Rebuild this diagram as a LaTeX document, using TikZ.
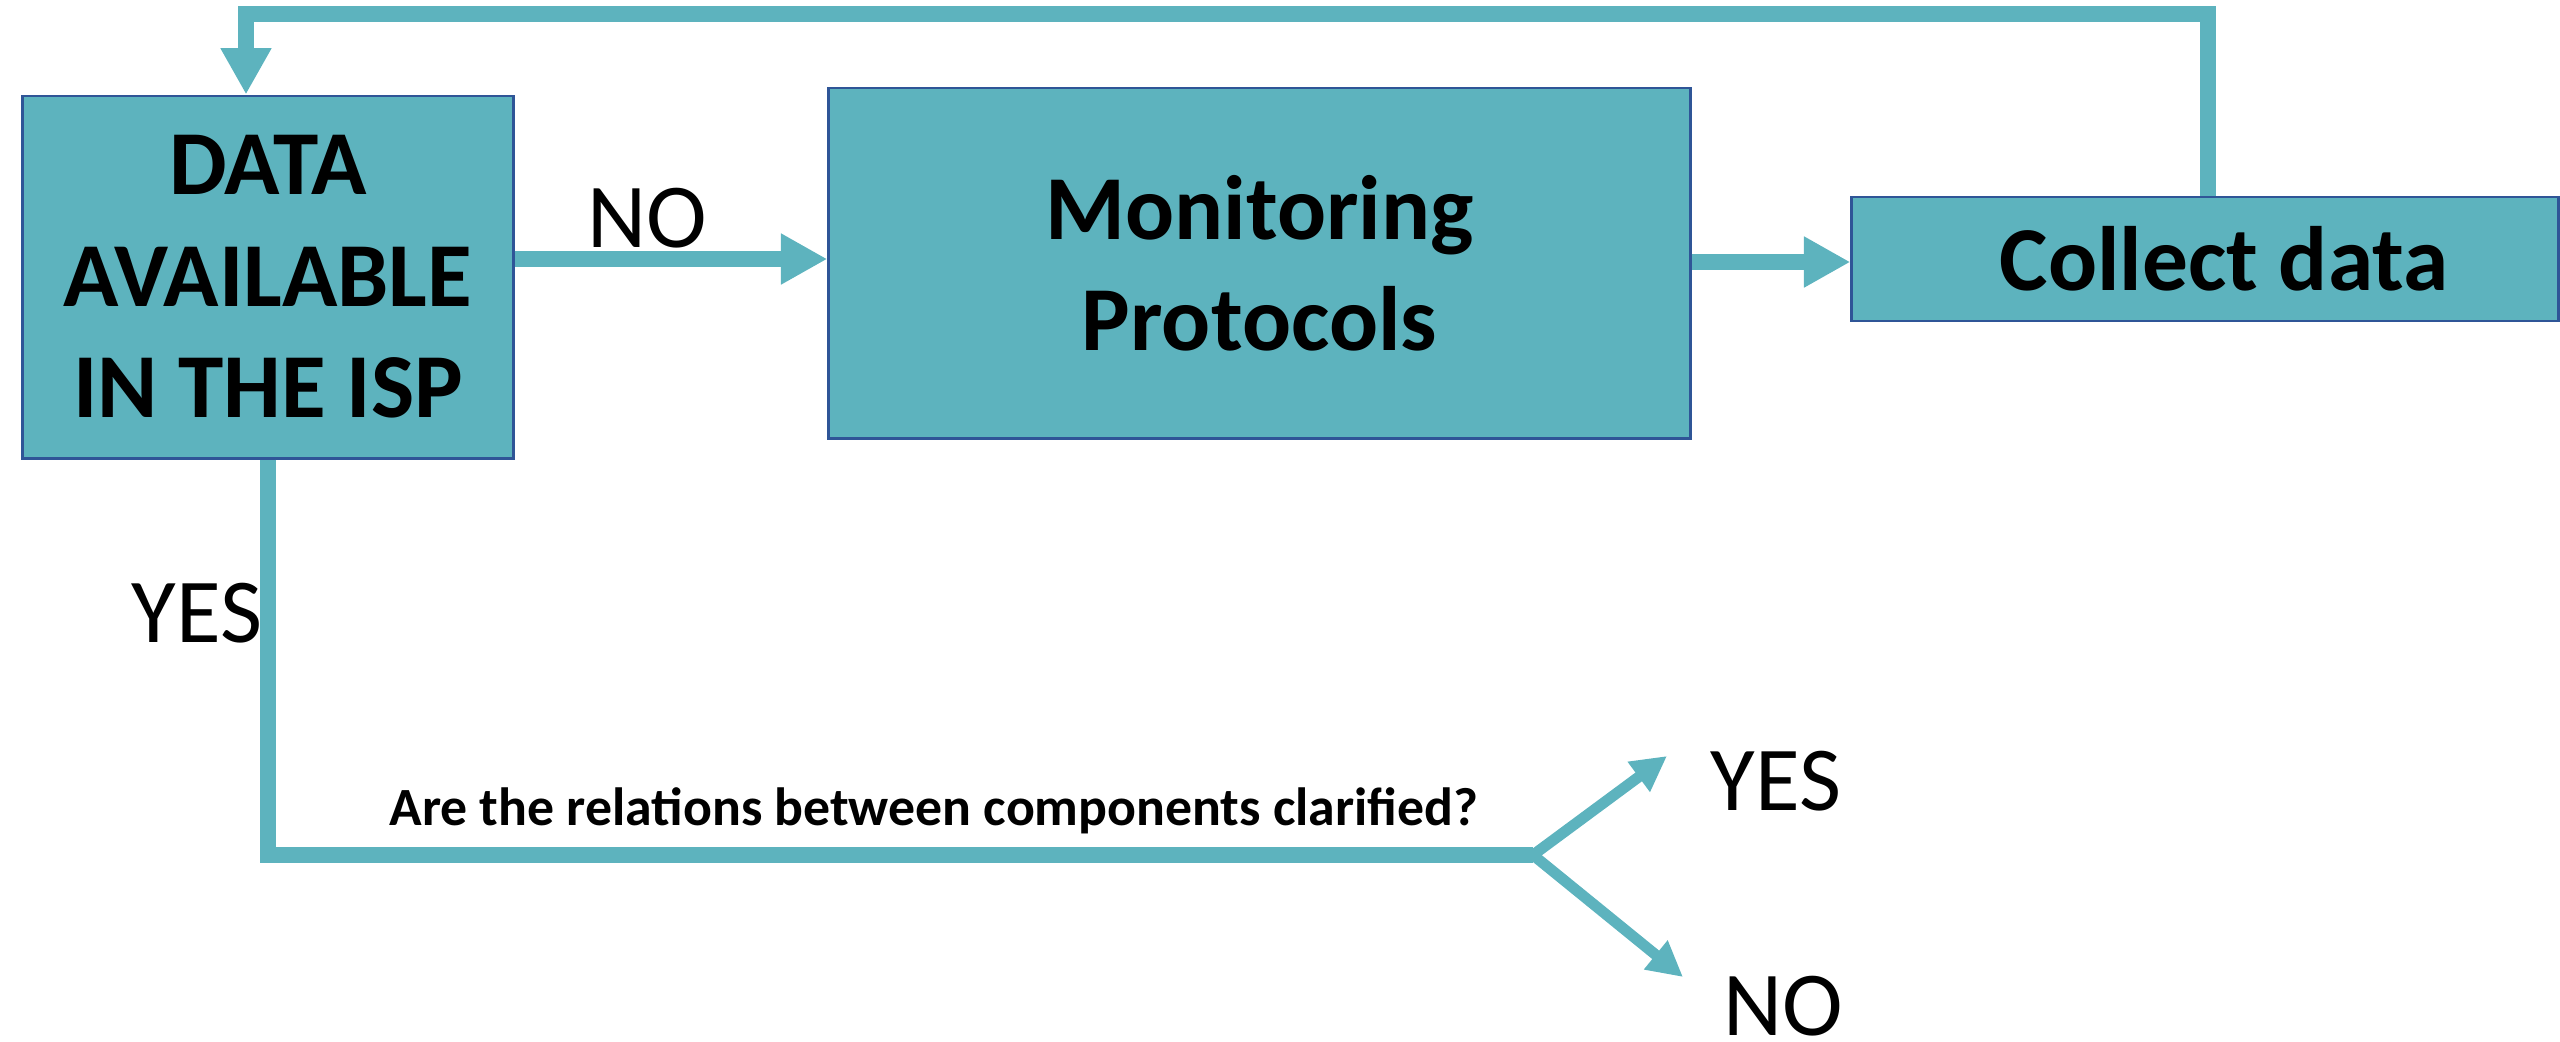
\documentclass[tikz,border=0pt]{standalone}
\usepackage{fontspec}
\setmainfont{Carlito}
\usetikzlibrary{arrows.meta}
\definecolor{teal}{HTML}{5DB3BE}
\definecolor{edge}{HTML}{2F5597}
\tikzset{
  box/.style={draw=edge, line width=0.8pt, fill=teal, inner sep=0pt, align=center,
    font=\bfseries\fontsize{26}{31.7}\selectfont},
  flow/.style={draw=teal, line width=4.4pt, line join=miter},
  bigtip/.style={-{Triangle[length=13.2pt, width=13.6pt]}},
  smalltip/.style={draw=teal, line width=3.1pt, -{Triangle[length=10pt, width=10pt]}},
  lbl/.style={inner sep=0pt, anchor=base west, font=\fontsize{26}{31}\selectfont},
}
\begin{document}
\begin{tikzpicture}[x=0.01cm, y=-0.01cm]
\useasboundingbox (0,0) rectangle (2560,1041);
\node[box, minimum width=4.90cm, minimum height=3.62cm] (data) at (268,277)
  {DATA\\AVAILABLE\\IN THE ISP};
\node[box, minimum width=8.61cm, minimum height=3.50cm] (mon) at (1259.5,263)
  {Monitoring\\Protocols};
\node[box, minimum width=7.06cm, minimum height=1.24cm] (col) at (2205,259)
  {\hspace*{0.38cm}Collect data};

\coordinate (c1) at (2208,14);
\coordinate (c2) at (246,14);
\coordinate (r1) at (0,259);
\coordinate (r2) at (0,262);
\coordinate (d1) at (268,855);
\coordinate (split) at (1533,855);
\coordinate (ytip) at (1667,756);
\coordinate (ntip) at (1683,977);

\draw[flow, bigtip] (data.east |- r1) -- (mon.west |- r1);
\draw[flow, bigtip] (mon.east |- r2) -- (col.west |- r2);
\draw[flow, bigtip] (col.north -| c1) -- (c1) -- (c2) -- (data.north -| c2);
\draw[flow] (data.south -| d1) -- (d1) -- (split);
\draw[smalltip] (split) -- (ytip);
\draw[smalltip] (split) -- (ntip);

\node[lbl] (lno) at (587,247) {NO};
\node[lbl] (lyes) at (131,642) {YES};
\node[lbl] (ryes) at (1710,810) {YES};
\node[lbl] (rno) at (1723,1035) {NO};
\node[inner sep=0pt, anchor=base west, font=\bfseries\fontsize{15.3}{18}\selectfont] (q) at (389,825)
  {Are the relations between components clarified?};
\end{tikzpicture}
\end{document}
